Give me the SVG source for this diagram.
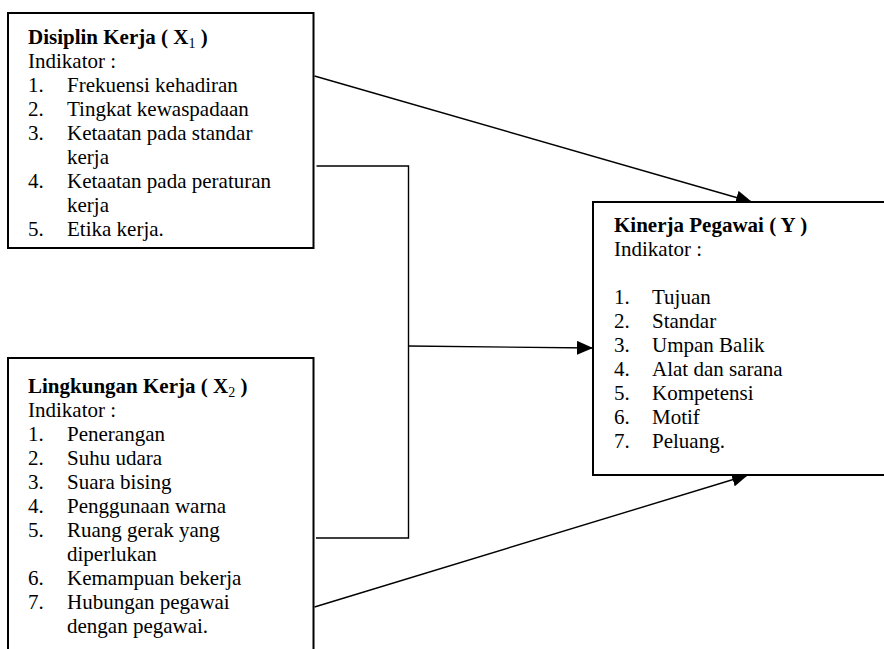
<svg xmlns="http://www.w3.org/2000/svg" width="884" height="649" viewBox="0 0 884 649">
  <style>
    .box { fill: #ffffff; stroke: #000000; stroke-width: 2; }
    .conn { fill: none; stroke: #000000; stroke-width: 1.4; }
    text { font-family: "Liberation Serif", "Times New Roman", serif; font-size: 21px; fill: #000000; }
    .title { font-weight: bold; }
    .sub { font-size: 14px; font-weight: normal; }
  </style>
  <defs>
    <marker id="arrow" markerUnits="userSpaceOnUse" markerWidth="16" markerHeight="14" refX="16" refY="7" orient="auto">
      <path d="M0,0 L16,7 L0,14 z" fill="#000000"/>
    </marker>
  </defs>
  <rect x="0" y="0" width="884" height="649" fill="#ffffff"/>

  <g id="connectors">
    <line class="conn" x1="314.5" y1="76" x2="752" y2="202" marker-end="url(#arrow)"/>
    <path class="conn" d="M316.5,166 H408.5 V538 H316"/>
    <line class="conn" x1="408.5" y1="346" x2="593" y2="348" marker-end="url(#arrow)"/>
    <line class="conn" x1="314.5" y1="607" x2="748" y2="475" marker-end="url(#arrow)"/>
  </g>

  <g id="node-x1">
    <rect class="box" x="8" y="13" width="305.5" height="235"/>
    <text class="title" x="28" y="43.5">Disiplin Kerja ( X<tspan class="sub" dy="4">1</tspan><tspan dy="-4"> )</tspan></text>
    <text x="28" y="67.5">Indikator :</text>
    <text x="28" y="91.5">1.</text><text x="67" y="91.5">Frekuensi kehadiran</text>
    <text x="28" y="115.5">2.</text><text x="67" y="115.5">Tingkat kewaspadaan</text>
    <text x="28" y="139.5">3.</text><text x="67" y="139.5">Ketaatan pada standar</text>
    <text x="67" y="163.5">kerja</text>
    <text x="28" y="187.5">4.</text><text x="67" y="187.5">Ketaatan pada peraturan</text>
    <text x="67" y="211.5">kerja</text>
    <text x="28" y="235.5">5.</text><text x="67" y="235.5">Etika kerja.</text>
  </g>

  <g id="node-x2">
    <rect class="box" x="8" y="358" width="305.5" height="320"/>
    <text class="title" x="28" y="393">Lingkungan Kerja ( X<tspan class="sub" dy="4">2</tspan><tspan dy="-4"> )</tspan></text>
    <text x="28" y="417">Indikator :</text>
    <text x="28" y="441">1.</text><text x="67" y="441">Penerangan</text>
    <text x="28" y="465">2.</text><text x="67" y="465">Suhu udara</text>
    <text x="28" y="489">3.</text><text x="67" y="489">Suara bising</text>
    <text x="28" y="513">4.</text><text x="67" y="513">Penggunaan warna</text>
    <text x="28" y="537">5.</text><text x="67" y="537">Ruang gerak yang</text>
    <text x="67" y="561">diperlukan</text>
    <text x="28" y="585">6.</text><text x="67" y="585">Kemampuan bekerja</text>
    <text x="28" y="609">7.</text><text x="67" y="609">Hubungan pegawai</text>
    <text x="67" y="633">dengan pegawai.</text>
  </g>

  <g id="node-y">
    <rect class="box" x="593" y="202" width="320" height="273"/>
    <text class="title" x="614" y="232">Kinerja Pegawai ( Y )</text>
    <text x="614" y="256">Indikator :</text>
    <text x="614" y="304">1.</text><text x="652" y="304">Tujuan</text>
    <text x="614" y="328">2.</text><text x="652" y="328">Standar</text>
    <text x="614" y="352">3.</text><text x="652" y="352">Umpan Balik</text>
    <text x="614" y="376">4.</text><text x="652" y="376">Alat dan sarana</text>
    <text x="614" y="400">5.</text><text x="652" y="400">Kompetensi</text>
    <text x="614" y="424">6.</text><text x="652" y="424">Motif</text>
    <text x="614" y="448">7.</text><text x="652" y="448">Peluang.</text>
  </g>
</svg>
